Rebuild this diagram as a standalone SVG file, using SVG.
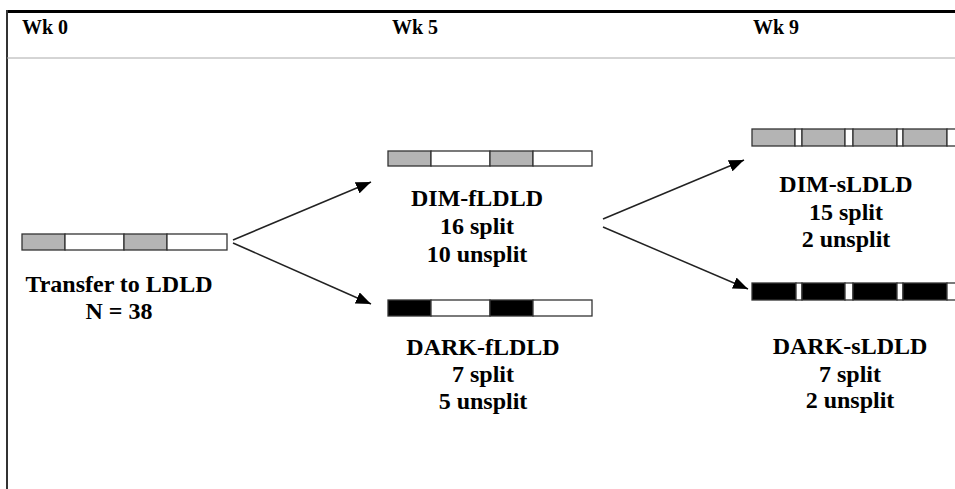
<svg xmlns="http://www.w3.org/2000/svg" width="955" height="489" viewBox="0 0 955 489">
<defs>
<style>
.t{font-family:"Liberation Serif","DejaVu Serif",serif;font-weight:bold;fill:#000;}
.h{font-size:20px;}
.l{font-size:24px;text-anchor:middle;}
.bar{stroke:#333;stroke-width:1.3;}
.g{fill:#b4b4b4;}
.w{fill:#fff;}
.k{fill:#000;}
.c{stroke:#222;stroke-width:1.5;fill:none;}
</style>
<marker id="ah" viewBox="0 0 15 12" refX="15" refY="6" markerWidth="15" markerHeight="12" markerUnits="userSpaceOnUse" orient="auto">
<path d="M0,0 L15,6 L0,12 Z" fill="#000"/>
</marker>
</defs>
<rect width="955" height="489" fill="#fff"/>
<g id="frame">
<line x1="6" y1="11.5" x2="955" y2="11.5" stroke="#000" stroke-width="3"/>
<line x1="7" y1="10" x2="7" y2="489" stroke="#333" stroke-width="2"/>
<line x1="7" y1="58" x2="955" y2="58" stroke="#aaa" stroke-width="1"/>
<text class="t h" x="22" y="34" font-family="Liberation Serif, serif">Wk 0</text>
<text class="t h" x="392" y="34" font-family="Liberation Serif, serif">Wk 5</text>
<text class="t h" x="753" y="34" font-family="Liberation Serif, serif">Wk 9</text>
</g>
<g id="connectors">
<line class="c" x1="233" y1="240" x2="371" y2="182" marker-end="url(#ah)"/>
<line class="c" x1="233" y1="243" x2="371" y2="304" marker-end="url(#ah)"/>
<line class="c" x1="603" y1="219" x2="744" y2="160" marker-end="url(#ah)"/>
<line class="c" x1="603" y1="227" x2="748" y2="289" marker-end="url(#ah)"/>
</g>
<g id="start">
<rect class="bar g" x="22" y="234" width="43" height="16"/>
<rect class="bar w" x="65" y="234" width="59" height="16"/>
<rect class="bar g" x="124" y="234" width="43" height="16"/>
<rect class="bar w" x="167" y="234" width="60" height="16"/>
<text class="t l" x="119" y="292">Transfer to LDLD</text>
<text class="t l" x="119" y="319">N = 38</text>
</g>
<g id="dim-f">
<rect class="bar g" x="388" y="151" width="43" height="15"/>
<rect class="bar w" x="431" y="151" width="59" height="15"/>
<rect class="bar g" x="490" y="151" width="43" height="15"/>
<rect class="bar w" x="533" y="151" width="59" height="15"/>
<text class="t l" x="477" y="206">DIM-fLDLD</text>
<text class="t l" x="477" y="234">16 split</text>
<text class="t l" x="477" y="262">10 unsplit</text>
</g>
<g id="dark-f">
<rect class="bar k" x="388" y="300" width="43" height="16"/>
<rect class="bar w" x="431" y="300" width="59" height="16"/>
<rect class="bar k" x="490" y="300" width="43" height="16"/>
<rect class="bar w" x="533" y="300" width="59" height="16"/>
<text class="t l" x="483" y="355">DARK-fLDLD</text>
<text class="t l" x="483" y="382">7 split</text>
<text class="t l" x="483" y="409">5 unsplit</text>
</g>
<g id="dim-s">
<rect class="bar g" x="752" y="129" width="43" height="17"/>
<rect class="bar w" x="795" y="129" width="7" height="17"/>
<rect class="bar g" x="802" y="129" width="43" height="17"/>
<rect class="bar w" x="845" y="129" width="8" height="17"/>
<rect class="bar g" x="853" y="129" width="44" height="17"/>
<rect class="bar w" x="897" y="129" width="6" height="17"/>
<rect class="bar g" x="903" y="129" width="44" height="17"/>
<rect class="bar w" x="947" y="129" width="12" height="17"/>
<text class="t l" x="846" y="192">DIM-sLDLD</text>
<text class="t l" x="846" y="220">15 split</text>
<text class="t l" x="846" y="247">2 unsplit</text>
</g>
<g id="dark-s">
<rect class="bar k" x="752" y="283" width="44" height="17"/>
<rect class="bar w" x="796" y="283" width="6" height="17"/>
<rect class="bar k" x="802" y="283" width="43" height="17"/>
<rect class="bar w" x="845" y="283" width="8" height="17"/>
<rect class="bar k" x="853" y="283" width="44" height="17"/>
<rect class="bar w" x="897" y="283" width="6" height="17"/>
<rect class="bar k" x="903" y="283" width="44" height="17"/>
<rect class="bar w" x="947" y="283" width="12" height="17"/>
<text class="t l" x="850" y="354">DARK-sLDLD</text>
<text class="t l" x="850" y="382">7 split</text>
<text class="t l" x="850" y="408">2 unsplit</text>
</g>
</svg>
